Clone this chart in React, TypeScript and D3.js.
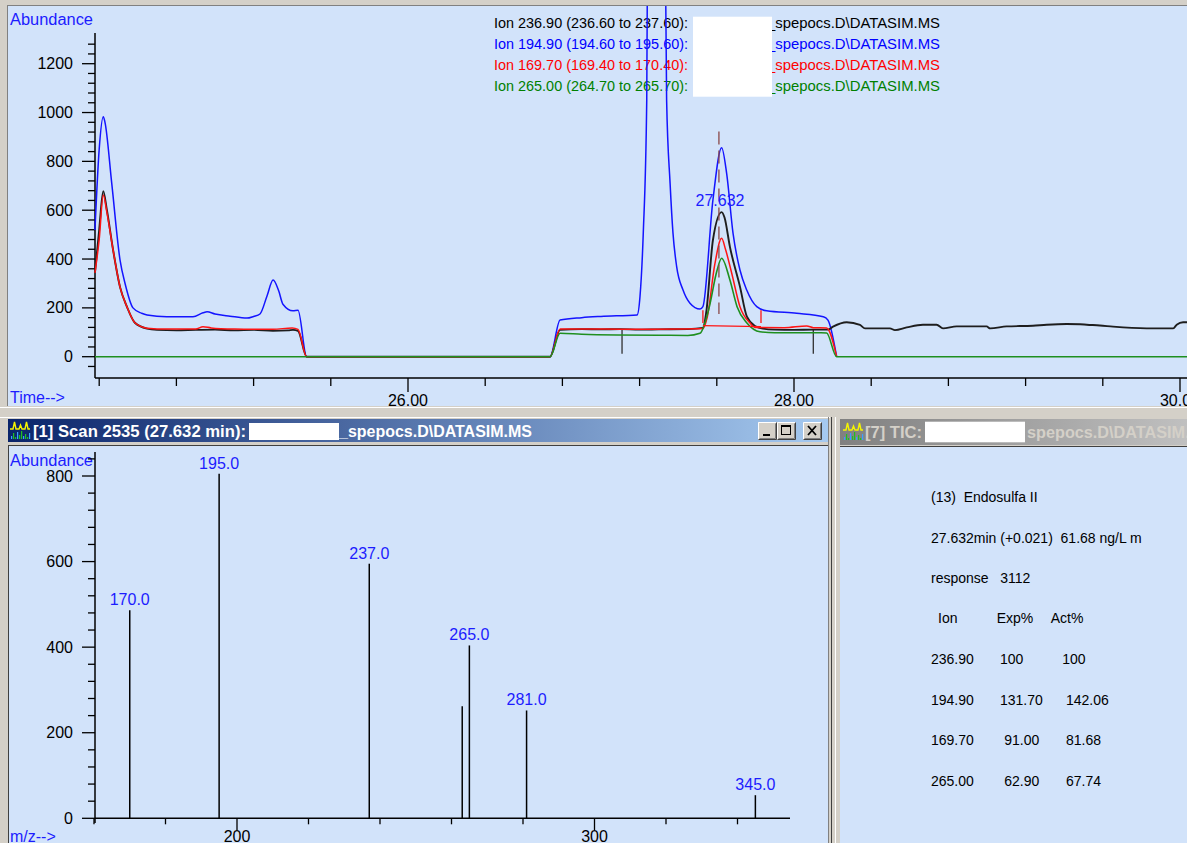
import React from 'react';
import * as d3 from 'd3';

// ---------- DATA ----------
const legendLabels = [
  'Ion 236.90 (236.60 to 237.60):',
  'Ion 194.90 (194.60 to 195.60):',
  'Ion 169.70 (169.40 to 170.40):',
  'Ion 265.00 (264.70 to 265.70):',
];
const legendColors = ['#000000', '#0000ff', '#ff0000', '#008000'];
const fileLabel = '_spepocs.D\\DATASIM.MS';

const ion236: [number, number][] = [
  [24.378, 343], [24.4, 520], [24.421, 678], [24.44, 600], [24.472, 437], [24.508, 285],
  [24.544, 204], [24.585, 139], [24.648, 115], [24.7, 110], [24.8, 108], [24.9, 110],
  [25.0, 111], [25.1, 108], [25.2, 110], [25.3, 106], [25.38, 108], [25.404, 110],
  [25.43, 106], [25.475, 0], [26.736, 0], [26.788, 110], [26.9, 113], [27.0, 112],
  [27.1, 113], [27.2, 111], [27.3, 112], [27.45, 113], [27.528, 118], [27.545, 180],
  [27.58, 478], [27.625, 592], [27.64, 570], [27.668, 450], [27.72, 287], [27.756, 164],
  [27.8, 125], [27.839, 115], [27.9, 111], [28.0, 110], [28.1, 111], [28.176, 111],
  [28.202, 123], [28.273, 141], [28.342, 130], [28.368, 116], [28.497, 116], [28.523, 109],
  [28.584, 120], [28.668, 131], [28.739, 131], [28.772, 116], [28.843, 124], [28.998, 124],
  [29.016, 116], [29.102, 124], [29.238, 127], [29.309, 131], [29.413, 134], [29.482, 133],
  [29.517, 131], [29.585, 128], [29.653, 123], [29.827, 116], [29.965, 116], [29.983, 131],
  [30.016, 141], [30.04, 141],
];
const ion194: [number, number][] = [
  [24.378, 519], [24.4, 850], [24.421, 983], [24.43, 960], [24.465, 710], [24.508, 396],
  [24.534, 300], [24.575, 200], [24.62, 178], [24.648, 171], [24.75, 164], [24.886, 164],
  [24.938, 180], [24.959, 184], [25.0, 175], [25.078, 166], [25.166, 158], [25.2, 165],
  [25.233, 175], [25.27, 250], [25.301, 314], [25.33, 270], [25.352, 215], [25.404, 188],
  [25.43, 190], [25.475, 0], [26.736, 0], [26.788, 150], [26.9, 160], [27.0, 165],
  [27.187, 171], [27.202, 246], [27.219, 506], [27.237, 1050], [27.24, 1500], [27.26, 1800],
  [27.3, 1850], [27.335, 1500], [27.34, 1050], [27.358, 710], [27.373, 506], [27.392, 369],
  [27.425, 273], [27.461, 219], [27.513, 195], [27.528, 205], [27.58, 642], [27.625, 856],
  [27.651, 751], [27.684, 506], [27.72, 355], [27.755, 273], [27.807, 205], [27.858, 188],
  [28.014, 178], [28.152, 164], [28.176, 150], [28.221, 0],
];
const ion169: [number, number][] = [
  [24.378, 343], [24.4, 480], [24.421, 662], [24.44, 590], [24.472, 437], [24.508, 285],
  [24.544, 204], [24.585, 139], [24.648, 117], [24.75, 113], [24.9, 113], [24.938, 123],
  [24.98, 118], [25.1, 113], [25.2, 112], [25.3, 112], [25.4, 118], [25.43, 112],
  [25.475, 0], [26.736, 0], [26.788, 113], [27.0, 113], [27.2, 112], [27.4, 113],
  [27.528, 115], [27.55, 160], [27.59, 380], [27.625, 485], [27.645, 440], [27.677, 343],
  [27.72, 205], [27.772, 138], [27.8, 120], [27.95, 119], [28.066, 126], [28.1, 119],
  [28.169, 118], [28.221, 0],
];
const ion265: [number, number][] = [
  [24.378, 0], [26.736, 0], [26.788, 96], [26.9, 92], [27.083, 89], [27.3, 88], [27.45, 87],
  [27.513, 96], [27.56, 200], [27.6, 350], [27.625, 403], [27.668, 314], [27.705, 205],
  [27.756, 138], [27.824, 102], [27.9, 98], [28.14, 98], [28.169, 97], [28.221, 0], [30.04, 0],
];
// drawing order: blue, black, red, green (green baseline on top)
const traces = [ion194, ion236, ion169, ion265];
const traceColors = ['#1414ff', '#1e1e1e', '#ff1414', '#1f8f1f'];
const traceWidths = [1.5, 1.9, 1.5, 1.6];

const expectedRT = 27.611;
const peakRTLabel = '27.632';
const peakRT = 27.632;
const baselineMarks = [27.109, 28.1];
const redMarks = [27.528, 27.829];
const redBaseline: [number, number][] = [[27.528, 127], [27.829, 123]];

const timeTicks = d3.range(61, 76).map((i) => +(i * 0.4).toFixed(2));
const abundTicksTop = d3.range(-1, 33).map((i) => i * 40);

const specMz = [170, 195, 237, 263, 265, 281, 345];
const specAbund = [486, 805, 595, 262, 404, 252, 54];
const specLabels = ['170.0', '195.0', '237.0', '', '265.0', '281.0', '345.0'];
const mzTicks = d3.range(8, 18).map((i) => i * 20);
const abundTicksSpec = d3.range(0, 22).map((i) => i * 40);

const infoLines = ['(13)  Endosulfa II', '27.632min (+0.021)  61.68 ng/L m', 'response   3112'];
const tableIons = ['236.90', '194.90', '169.70', '265.00'];
const tableExp = ['100', '131.70', '91.00', '62.90'];
const tableAct = ['100', '142.06', '81.68', '67.74'];

// ---------- LAYOUT ----------
const W = 1187;
const H = 843;
const BG = '#d2e3fa';
const FRAME = '#d4d0c8';
const FONT = "'Liberation Sans', Arial, sans-serif";
const AXIS_BLUE = '#1c1cff';

const topX = d3.scaleLinear().domain([26, 28]).range([408, 794]);
const topY = d3.scaleLinear().domain([0, 1200]).range([356.7, 63.7]);
const specX = d3.scaleLinear().domain([200, 300]).range([237, 594.5]);
const specY = d3.scaleLinear().domain([0, 800]).range([818.3, 476]);

const line = d3
  .line<[number, number]>()
  .x((d) => topX(d[0]))
  .y((d) => topY(d[1]))
  .curve(d3.curveMonotoneX);
const straight = d3
  .line<[number, number]>()
  .x((d) => topX(d[0]))
  .y((d) => topY(d[1]));

function Button({ x, y, kind }: { x: number; y: number; kind: string }) {
  const w = 19;
  const h = 18;
  return (
    <g>
      <rect x={x} y={y} width={w} height={h} fill={FRAME} />
      <path d={`M${x + 0.5},${y + h - 0.5} V${y + 0.5} H${x + w - 0.5}`} stroke="#ffffff" fill="none" />
      <path d={`M${x + 0.5},${y + h - 0.5} H${x + w - 0.5} V${y + 0.5}`} stroke="#404040" fill="none" />
      <path d={`M${x + 1.5},${y + h - 1.5} H${x + w - 1.5} V${y + 1.5}`} stroke="#808080" fill="none" />
      {kind === 'min' && <rect x={x + 5} y={y + 12} width={7} height={2} fill="#000" />}
      {kind === 'max' && (
        <g>
          <rect x={x + 4.5} y={y + 3.5} width={9} height={9} fill="none" stroke="#000" />
          <rect x={x + 4} y={y + 3} width={10} height={2} fill="#000" />
        </g>
      )}
      {kind === 'close' && (
        <path
          d={`M${x + 5},${y + 4} L${x + 13},${y + 13} M${x + 13},${y + 4} L${x + 5},${y + 13}`}
          stroke="#000"
          strokeWidth={1.8}
        />
      )}
    </g>
  );
}

function WinIcon({ x, y }: { x: number; y: number }) {
  const bars = [3, 6, 2, 7, 4, 8, 3, 5, 2, 6];
  return (
    <g transform={`translate(${x},${y})`}>
      <path
        d="M0,8 H3 L4.5,1 L6,8 H9 L10.5,4 L12,8 H15 L16.5,1 L18,8 H20"
        fill="none"
        stroke="#f5f500"
        strokeWidth={1.4}
      />
      {bars.map((b, i) => (
        <rect key={i} x={1 + i * 2} y={18 - b} width={1.2} height={b} fill={i % 3 === 0 ? '#3aa0ff' : '#20c020'} />
      ))}
    </g>
  );
}

export default function App() {
  const textProps = { fontFamily: FONT };
  return (
    <svg
      width={W}
      height={H}
      viewBox={`0 0 ${W} ${H}`}
      style={{ position: 'absolute', left: 0, top: 0, display: 'block' }}
    >
      <defs>
        <clipPath id="topClip">
          <rect x={9} y={6} width={W - 9} height={400} />
        </clipPath>
        <clipPath id="specClip">
          <rect x={9} y={446} width={818} height={H - 446} />
        </clipPath>
        <clipPath id="rightClip">
          <rect x={840} y={419} width={W - 840} height={H - 419} />
        </clipPath>
        <linearGradient id="actGrad" x1="0" x2="1" y1="0" y2="0">
          <stop offset="0" stopColor="#0a246a" />
          <stop offset="1" stopColor="#a6caf0" />
        </linearGradient>
        <linearGradient id="inactGrad" x1="0" x2="1" y1="0" y2="0">
          <stop offset="0" stopColor="#808080" />
          <stop offset="1" stopColor="#c0c0c0" />
        </linearGradient>
      </defs>

      {/* frame background */}
      <rect x={0} y={0} width={W} height={H} fill={FRAME} />

      {/* ================= TOP PANEL ================= */}
      <rect x={8} y={5} width={W - 8} height={401} fill={BG} />
      <line x1={7.5} y1={5} x2={7.5} y2={406} stroke="#808080" />
      <line x1={8} y1={5.5} x2={W} y2={5.5} stroke="#808080" />
      <line x1={0} y1={407.5} x2={W} y2={407.5} stroke="#ffffff" />

      <g clipPath="url(#topClip)" {...textProps}>
        <text x={10} y={25} fill={AXIS_BLUE} fontSize={16} textLength={83} lengthAdjust="spacingAndGlyphs">
          Abundance
        </text>
        <text x={10} y={403} fill={AXIS_BLUE} fontSize={16}>
          Time--&gt;
        </text>

        {/* y axis */}
        <line x1={95} y1={33} x2={95} y2={378} stroke="#000" strokeWidth={1.5} />
        {abundTicksTop.map((v) => {
          const major = v % 200 === 0;
          return (
            <g key={'yt' + v}>
              <line x1={major ? 82 : 88} x2={95} y1={topY(v)} y2={topY(v)} stroke="#000" strokeWidth={1.3} />
              {major && v >= 0 && (
                <text x={73} y={topY(v) + 5.5} textAnchor="end" fontSize={16} fill="#000">
                  {v}
                </text>
              )}
            </g>
          );
        })}
        {/* x axis */}
        <line x1={95} y1={378} x2={W} y2={378} stroke="#000" strokeWidth={1.5} />
        {timeTicks.map((t) => {
          const major = Math.abs(t / 2 - Math.round(t / 2)) < 1e-6;
          return (
            <g key={'xt' + t}>
              <line x1={topX(t)} x2={topX(t)} y1={378} y2={major ? 392 : 386} stroke="#000" strokeWidth={1.3} />
              {major && (
                <text x={topX(t)} y={406} textAnchor="middle" fontSize={16} fill="#000">
                  {t.toFixed(2)}
                </text>
              )}
            </g>
          );
        })}

        {/* legend */}
        {legendLabels.map((l, i) => (
          <g key={'lg' + i}>
            <text x={494} y={27.5 + i * 21.3} fontSize={14.4} fill={legendColors[i]} textLength={194} lengthAdjust="spacingAndGlyphs">
              {l}
            </text>
            <text x={767} y={27.5 + i * 21.3} fontSize={14.4} fill={legendColors[i]} textLength={173} lengthAdjust="spacingAndGlyphs">
              {fileLabel}
            </text>
          </g>
        ))}
        <rect x={693} y={16.7} width={79} height={80} fill="#ffffff" />

        {/* integration markers */}
        {baselineMarks.map((t) => (
          <line key={'bm' + t} x1={topX(t)} x2={topX(t)} y1={topY(112)} y2={topY(12)} stroke="#303030" strokeWidth={1.3} />
        ))}

        {/* traces */}
        {traces.map((tr, i) => (
          <path
            key={'tr' + i}
            d={line(tr) || ''}
            fill="none"
            stroke={traceColors[i]}
            strokeWidth={traceWidths[i]}
            strokeLinejoin="round"
          />
        ))}

        {/* red integration marks */}
        <path d={straight(redBaseline) || ''} stroke="#ff1414" strokeWidth={1.2} fill="none" />
        {redMarks.map((t) => (
          <line key={'rm' + t} x1={topX(t)} x2={topX(t)} y1={topY(190)} y2={topY(138)} stroke="#ff1414" strokeWidth={1.3} />
        ))}

        {/* expected RT dashed line */}
        <line
          x1={topX(expectedRT)}
          x2={topX(expectedRT)}
          y1={topY(922)}
          y2={topY(175)}
          stroke="#8a4848"
          strokeWidth={1.3}
          strokeDasharray="13,6"
        />
        <text x={topX(peakRT) - 3} y={topY(617)} textAnchor="middle" fontSize={16} fill={AXIS_BLUE}>
          {peakRTLabel}
        </text>
      </g>

      {/* ================= BOTTOM LEFT WINDOW ================= */}
      <line x1={0} y1={417.5} x2={830} y2={417.5} stroke="#ffffff" />
      <rect x={8} y={419} width={820} height={23} fill="url(#actGrad)" />
      <WinIcon x={10} y={421} />
      <g {...textProps} fontWeight="bold" fill="#ffffff">
        <text x={33} y={437} fontSize={17} textLength={213} lengthAdjust="spacingAndGlyphs">
          [1] Scan 2535 (27.632 min):
        </text>
        <rect x={249} y={423} width={90} height={17} fill="#ffffff" />
        <text x={339} y={437} fontSize={17} textLength={193} lengthAdjust="spacingAndGlyphs">
          {fileLabel}
        </text>
      </g>
      <Button x={758} y={422} kind="min" />
      <Button x={777} y={422} kind="max" />
      <Button x={803} y={422} kind="close" />

      <rect x={8} y={445} width={820} height={H - 445} fill={BG} />
      <line x1={8} y1={445.5} x2={828} y2={445.5} stroke="#404040" />
      <line x1={8.5} y1={445} x2={8.5} y2={H} stroke="#404040" />

      <g clipPath="url(#specClip)" {...textProps}>
        <text x={10} y={466} fill={AXIS_BLUE} fontSize={16} textLength={83} lengthAdjust="spacingAndGlyphs">
          Abundance
        </text>
        <text x={10} y={842} fill={AXIS_BLUE} fontSize={16}>
          m/z--&gt;
        </text>
        <line x1={95} y1={452} x2={95} y2={823} stroke="#000" strokeWidth={1.5} />
        {abundTicksSpec.map((v) => {
          const major = v % 200 === 0;
          return (
            <g key={'sy' + v}>
              <line x1={major ? 82 : 88} x2={95} y1={specY(v)} y2={specY(v)} stroke="#000" strokeWidth={1.3} />
              {major && (
                <text x={73} y={specY(v) + 5.5} textAnchor="end" fontSize={16} fill="#000">
                  {v}
                </text>
              )}
            </g>
          );
        })}
        <line x1={95} y1={specY(0)} x2={790} y2={specY(0)} stroke="#000" strokeWidth={1.5} />
        {mzTicks.map((m) => {
          const major = m % 100 === 0;
          return (
            <g key={'sx' + m}>
              <line x1={specX(m)} x2={specX(m)} y1={specY(0)} y2={specY(0) + (major ? 12 : 6)} stroke="#000" strokeWidth={1.3} />
              {major && (
                <text x={specX(m)} y={842} textAnchor="middle" fontSize={16} fill="#000">
                  {m}
                </text>
              )}
            </g>
          );
        })}
        {specMz.map((m, i) => (
          <g key={'sp' + m}>
            <line x1={specX(m)} x2={specX(m)} y1={specY(0)} y2={specY(specAbund[i])} stroke="#000" strokeWidth={1.5} />
            {specLabels[i] && (
              <text x={specX(m)} y={specY(specAbund[i]) - 5} textAnchor="middle" fontSize={16} fill={AXIS_BLUE}>
                {specLabels[i]}
              </text>
            )}
          </g>
        ))}
      </g>

      {/* separator between windows */}
      <line x1={828.5} y1={417} x2={828.5} y2={H} stroke="#808080" />
      <line x1={831.5} y1={417} x2={831.5} y2={H} stroke="#404040" />
      <line x1={835.5} y1={417} x2={835.5} y2={H} stroke="#ffffff" />

      {/* ================= RIGHT WINDOW ================= */}
      <g clipPath="url(#rightClip)">
        <rect x={839} y={419} width={W - 839} height={26} fill="url(#inactGrad)" />
        <WinIcon x={843} y={422} />
        <g {...textProps} fontWeight="bold" fill={FRAME}>
          <text x={865} y={438} fontSize={17} textLength={57} lengthAdjust="spacingAndGlyphs">
            [7] TIC:
          </text>
          <rect x={925} y={421.7} width={100} height={20.6} fill="#ffffff" />
          <text x={1027} y={438} fontSize={17} textLength={187} lengthAdjust="spacingAndGlyphs">
            spepocs.D\DATASIM.MS
          </text>
        </g>
        <rect x={839} y={446} width={W - 839} height={H - 446} fill={BG} />
        <line x1={839} y1={446.5} x2={W} y2={446.5} stroke="#404040" />
        <line x1={839.5} y1={446} x2={839.5} y2={H} stroke="#404040" />
        <g {...textProps} fontSize={14} fill="#000">
          {infoLines.map((l, i) => (
            <text key={'il' + i} x={931} y={502 + i * 40.5} style={{ whiteSpace: 'pre' }} xmlSpace="preserve">
              {l}
            </text>
          ))}
          <text x={938} y={623}>Ion</text>
          <text x={996.7} y={623}>Exp%</text>
          <text x={1050.7} y={623}>Act%</text>
          {tableIons.map((ion, i) => {
            const y = 664 + i * 40.5;
            return (
              <g key={'row' + i}>
                <text x={931} y={y}>{ion}</text>
                <text x={tableExp[i].length > 3 && tableExp[i].length < 6 ? 1004.3 : 1000} y={y}>
                  {tableExp[i]}
                </text>
                <text x={tableAct[i].length === 3 ? 1062.3 : 1066} y={y}>
                  {tableAct[i]}
                </text>
              </g>
            );
          })}
        </g>
      </g>
    </svg>
  );
}
